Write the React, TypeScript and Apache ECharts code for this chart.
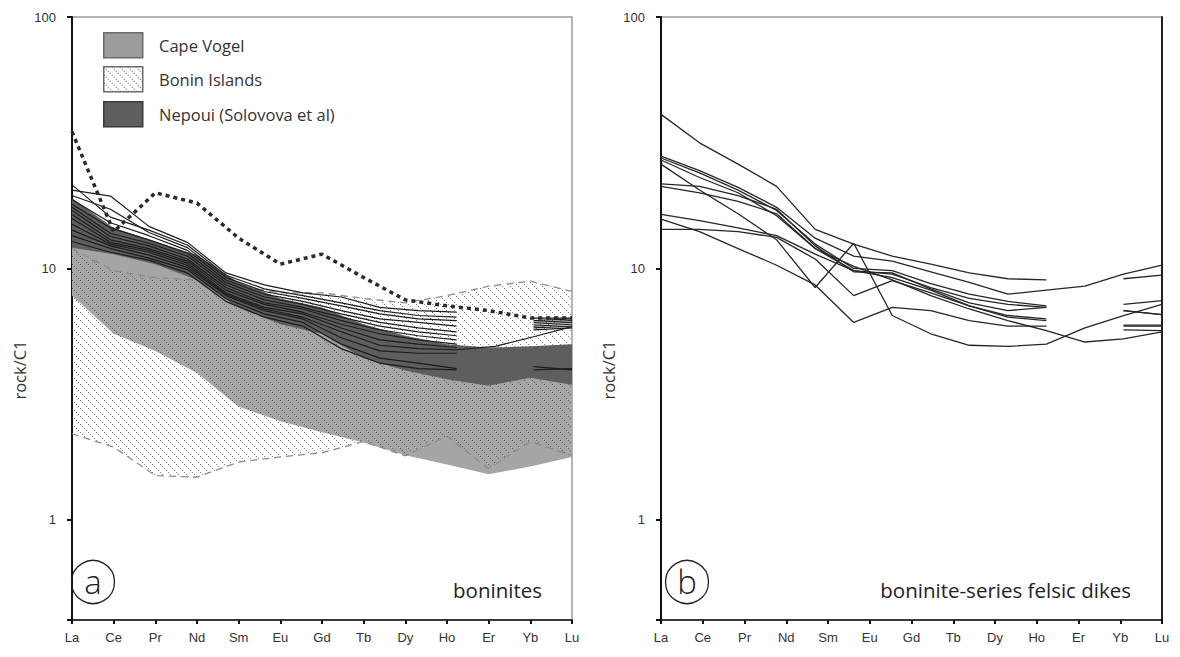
import React, { useEffect, useRef } from 'react';
import * as echarts from 'echarts';

// ---------- categories ----------
const REE_LABELS = ['La', 'Ce', 'Pr', 'Nd', 'Sm', 'Eu', 'Gd', 'Tb', 'Dy', 'Ho', 'Er', 'Yb', 'Lu'];
// sample profiles are plotted on the full REE list (Tm not analysed)
const REE_SAMPLE = ['La', 'Ce', 'Pr', 'Nd', 'Sm', 'Eu', 'Gd', 'Tb', 'Dy', 'Ho', 'Er', 'Tm', 'Yb', 'Lu'];
const Y_TICKS = [1, 10, 100];

// ---------- panel a : reference fields (13 labelled positions) ----------
const capeVogelUpper = [18.5, 14, 12.5, 11, 8.6, 7.4, 6.8, 5.8, 5.2, 4.9, 4.8, 4.85, 4.95];
const capeVogelLower = [7.8, 5.5, 4.7, 3.84, 2.82, 2.47, 2.23, 2.03, 1.81, 1.66, 1.52, 1.63, 1.78];
const boninUpper = [12, 9.8, 9.2, 9.0, 8.5, 8.0, 8.0, 7.6, 7.3, 7.8, 8.5, 8.9, 8.1];
const boninLower = [2.2, 1.95, 1.5, 1.48, 1.7, 1.78, 1.85, 2.05, 1.8, 2.15, 1.6, 2.05, 1.8];
const nepouiUpper = [19, 14.5, 12.8, 11.3, 8.8, 7.6, 7.0, 6.0, 5.4, 5.0, 4.85, 4.9, 5.0];
const nepouiLower = [12.1, 11.4, 10.4, 9.0, 7.0, 6.0, 5.5, 4.4, 3.93, 3.63, 3.42, 3.68, 3.45];
const dottedProfile = [35, 14, 20, 18.2, 13.2, 10.4, 11.4, 9.2, 7.5, 7.1, 6.8, 6.35, 6.35];

// ---------- panel a : boninite samples (14 REE positions) ----------
const boniniteProfiles: (number | null)[][] = [
  [20.5, 19.4, 14.7, 12.7, 9.6, 8.6, 8.0, 7.7, 7.0, 6.8, 6.7, null, 6.35, 6.35],
  [21.5, 16.0, 14.2, 12.4, 9.4, 8.3, 7.8, 7.3, 6.8, 6.5, 6.4, null, 6.2, 6.3],
  [19.5, 17.2, 13.9, 12.1, 9.2, 8.1, 7.6, 7.1, 6.6, 6.3, 6.2, null, 6.1, 6.2],
  [18.8, 15.2, 13.5, 11.8, 9.0, 7.9, 7.4, 6.8, 6.3, 6.1, 5.9, null, 6.0, 6.1],
  [18.0, 14.5, 13.0, 11.5, 8.8, 7.7, 7.2, 6.6, 6.1, 5.8, 5.6, null, 5.9, 6.0],
  [17.5, 13.8, 12.6, 11.2, 8.6, 7.5, 7.0, 6.4, 5.9, 5.6, 5.4, null, 5.8, 5.9],
  [17.0, 13.4, 12.3, 10.9, 8.4, 7.3, 6.9, 6.2, 5.7, 5.4, 5.2, null, 5.7, 5.8],
  [16.4, 13.0, 12.0, 10.7, 8.2, 7.2, 6.7, 6.0, 5.5, 5.2, 5.0, null, null, null],
  [15.8, 12.7, 11.8, 10.5, 8.0, 7.0, 6.6, 5.8, 5.2, 5.0, 4.85, null, null, null],
  [15.0, 12.5, 11.6, 10.3, 7.9, 6.9, 6.4, 5.6, 4.95, 4.8, 4.75, 4.9, 5.35, 5.87],
  [14.2, 12.3, 11.3, 10.1, 7.8, 6.8, 6.3, 5.3, 4.7, 4.6, 4.6, null, null, null],
  [13.5, 12.0, 11.0, 9.9, 7.6, 6.6, 6.1, 5.0, 4.4, 4.2, 4.0, null, 4.07, 3.95],
  [12.8, 11.6, 10.8, 9.6, 7.4, 6.4, 5.9, 4.8, 4.2, 4.0, 3.95, null, 3.95, 4.0],
];

// ---------- panel b : felsic dikes (14 REE positions) ----------
const felsicProfiles: (number | null)[][] = [
  [41, 31.6, 26, 21.2, 14.3, 12.5, 11.2, 10.4, 9.6, 9.1, 9.0, null, 9.1, 9.4],
  [28, 24.5, 21, 17.5, 13.2, 11.2, 10.7, 9.7, 8.8, 7.9, 8.2, 8.5, 9.5, 10.3],
  [27.5, 24, 20.5, 17, 12.5, 10, 9.8, 8.7, 7.9, 7.4, 7.1, null, 7.2, 7.45],
  [27, 23, 20, 16.2, 12, 9.8, 9.5, 8.4, 7.6, 7.2, 7.0, null, 6.8, 6.55],
  [26, 20.5, 16.5, 13, 8.4, 12.6, 6.5, 5.5, 4.95, 4.9, 5.0, 5.8, 6.5, 7.2],
  [21.7, 21.2, 19.5, 17.2, 12.3, 9.7, 9.6, 8.3, 7.3, 6.8, 7.0, null, 5.9, 5.9],
  [21.2, 20, 18.5, 16.5, 12, 10.2, 9.0, 7.8, 6.9, 6.2, 5.66, 5.1, 5.25, 5.6],
  [16.4, 15.5, 14.5, 13.5, 11.4, 9.8, 9.2, 8.2, 7.1, 6.5, 6.3, null, 5.95, 5.95],
  [15.7, 14, 12, 10.3, 8.6, 6.1, 7.0, 6.8, 6.2, 5.9, 5.9, null, 5.7, 5.66],
  [14.3, 14.3, 14, 13.3, 10.9, 7.8, 8.95, 8.0, 7.1, 6.4, 6.2, null, 6.8, 6.55],
];

const NARROW = "'Liberation Sans Narrow', 'Liberation Sans', Arial, sans-serif";
const HUMAN = "'Open Sans', 'Noto Sans', sans-serif";

function makeHatch(alpha: number): HTMLCanvasElement {
  const c = document.createElement('canvas');
  c.width = 8;
  c.height = 8;
  const ctx = c.getContext('2d');
  if (ctx) {
    ctx.fillStyle = 'rgba(50,50,50,' + alpha + ')';
    for (let i = 0; i < 8; i += 2) ctx.fillRect(i, i, 1, 1);
  }
  return c;
}

function bandSeries(
  name: string,
  upper: number[],
  lower: number[],
  xAxisIndex: number,
  yAxisIndex: number,
  fill: any,
  stroke: string | null,
  dashed: boolean
) {
  return {
    type: 'custom',
    name,
    xAxisIndex,
    yAxisIndex,
    coordinateSystem: 'cartesian2d',
    silent: true,
    clip: true,
    data: [[0, upper[0]]],
    renderItem: (_params: any, api: any) => {
      const top = upper.map((v, i) => api.coord([i, v]));
      const bot = lower.map((v, i) => api.coord([i, v]));
      const children: any[] = [
        {
          type: 'polygon',
          shape: { points: top.concat(bot.slice().reverse()) },
          style: { fill, stroke: dashed ? null : stroke, lineWidth: 1 },
        },
      ];
      if (dashed && stroke) {
        children.push({
          type: 'polyline',
          shape: { points: top },
          style: { stroke, fill: null, lineWidth: 1.3, lineDash: [7, 5] },
        });
        children.push({
          type: 'polyline',
          shape: { points: bot },
          style: { stroke, fill: null, lineWidth: 1.3, lineDash: [7, 5] },
        });
      }
      return { type: 'group', children };
    },
  };
}

function yAxisFor(gridIndex: number) {
  return {
    type: 'log',
    logBase: 10,
    gridIndex,
    min: 0.4,
    max: 100,
    axisLine: { show: true, lineStyle: { color: '#111', width: 2 } },
    axisTick: { show: true, length: 5, lineStyle: { color: '#111', width: 2 } },
    axisLabel: {
      margin: 16,
      color: '#333',
      fontSize: 13,
      fontFamily: NARROW,
      formatter: (v: number) => {
        const t = Y_TICKS.find((k) => Math.abs(v - k) / k < 1e-6);
        return t !== undefined ? String(t) : '';
      },
    },
    splitLine: { show: false },
  };
}

function xAxisVisible(gridIndex: number) {
  return {
    type: 'category',
    gridIndex,
    data: REE_LABELS,
    boundaryGap: false,
    axisLine: { show: true, lineStyle: { color: '#111', width: 1.5 } },
    axisTick: { show: true, length: 4, interval: 0, lineStyle: { color: '#111', width: 2 } },
    axisLabel: { interval: 0, margin: 11, color: '#333', fontSize: 13, fontFamily: NARROW },
    splitLine: { show: false },
  };
}

function xAxisHidden(gridIndex: number) {
  return { type: 'category', gridIndex, data: REE_SAMPLE, boundaryGap: false, show: false };
}

export default function App() {
  const ref = useRef<HTMLDivElement>(null);

  useEffect(() => {
    if (!ref.current) return;
    const chart = echarts.init(ref.current, undefined, { renderer: 'svg' });
    const hatchFill = { image: makeHatch(0.6), repeat: 'repeat', imageWidth: 8, imageHeight: 8 };
    const hatchLegend = { image: makeHatch(0.8), repeat: 'repeat', imageWidth: 8, imageHeight: 8 };

    const series: any[] = [
      bandSeries('Cape Vogel', capeVogelUpper, capeVogelLower, 0, 0, '#a5a5a5', null, false),
      bandSeries('Bonin Islands', boninUpper, boninLower, 0, 0, hatchFill, '#8c8c8c', true),
      bandSeries('Nepoui (Solovova et al)', nepouiUpper, nepouiLower, 0, 0, '#5e5e5e', null, false),
    ];
    boniniteProfiles.forEach((p, i) => {
      series.push({
        type: 'line',
        name: 'boninite ' + (i + 1),
        xAxisIndex: 1,
        yAxisIndex: 0,
        data: p,
        symbol: 'none',
        connectNulls: false,
        silent: true,
        lineStyle: { color: '#1c1c1c', width: 1.2 },
      });
    });
    series.push({
      type: 'line',
      name: 'reference (dotted)',
      xAxisIndex: 0,
      yAxisIndex: 0,
      data: dottedProfile,
      symbol: 'none',
      silent: true,
      lineStyle: { color: '#2a2a2a', width: 3.5, type: [4, 4] },
    });
    felsicProfiles.forEach((p, i) => {
      series.push({
        type: 'line',
        name: 'felsic ' + (i + 1),
        xAxisIndex: 3,
        yAxisIndex: 1,
        data: p,
        symbol: 'none',
        connectNulls: false,
        silent: true,
        lineStyle: { color: '#262626', width: 1.3 },
      });
    });

    const legendItems = [
      { label: 'Cape Vogel', fill: '#9c9c9c', stroke: '#6a6a6a', y: 32 },
      { label: 'Bonin Islands', fill: hatchLegend, stroke: '#6a6a6a', y: 66 },
      { label: 'Nepoui (Solovova et al)', fill: '#5e5e5e', stroke: '#3a3a3a', y: 101 },
    ];
    const graphic: any[] = [];
    legendItems.forEach((it) => {
      graphic.push({
        type: 'rect',
        left: 103,
        top: it.y,
        shape: { width: 39, height: 25 },
        style: { fill: it.fill, stroke: it.stroke, lineWidth: 1.5 },
        z: 10,
      });
      graphic.push({
        type: 'text',
        x: 159,
        y: it.y + 13,
        style: {
          text: it.label,
          fill: '#333',
          fontSize: 16.5,
          fontFamily: HUMAN,
          verticalAlign: 'middle',
        },
        z: 10,
      });
    });
    [
      { cx: 93, letter: 'a', ylab: 19, note: 'boninites', noteRight: 542 },
      { cx: 687, letter: 'b', ylab: 608, note: 'boninite-series felsic dikes', noteRight: 1131 },
    ].forEach((p) => {
      graphic.push({
        type: 'circle',
        shape: { cx: p.cx, cy: 582, r: 21.5 },
        style: { fill: 'none', stroke: '#222', lineWidth: 1.3 },
        z: 10,
      });
      graphic.push({
        type: 'text',
        x: p.cx,
        y: 581,
        style: {
          text: p.letter,
          fill: '#222',
          fontSize: 33,
          fontWeight: 300,
          fontFamily: HUMAN,
          align: 'center',
          verticalAlign: 'middle',
        },
        z: 10,
      });
      graphic.push({
        type: 'text',
        x: p.noteRight,
        y: 590,
        style: {
          text: p.note,
          fill: '#222',
          fontSize: 20.5,
          fontFamily: HUMAN,
          align: 'right',
          verticalAlign: 'middle',
        },
        z: 10,
      });
      graphic.push({
        type: 'text',
        x: p.ylab,
        y: 370,
        rotation: Math.PI / 2,
        style: {
          text: 'rock/C1',
          fill: '#333',
          fontSize: 16.5,
          fontFamily: HUMAN,
          align: 'center',
          verticalAlign: 'middle',
        },
        z: 10,
      });
    });

    chart.setOption({
      animation: false,
      backgroundColor: '#ffffff',
      grid: [
        { left: 72, right: 608, top: 17, bottom: 37, show: true, borderColor: '#b4b4b4', borderWidth: 2 },
        { left: 661, right: 18, top: 17, bottom: 37, show: true, borderColor: '#b4b4b4', borderWidth: 2 },
      ],
      xAxis: [xAxisVisible(0), xAxisHidden(0), xAxisVisible(1), xAxisHidden(1)],
      yAxis: [
        yAxisFor(0),
        yAxisFor(1),
        {
          type: 'log',
          logBase: 10,
          gridIndex: 1,
          min: 0.4,
          max: 100,
          position: 'right',
          axisLine: { show: true, lineStyle: { color: '#222', width: 2 } },
          axisTick: { show: false },
          axisLabel: { show: false },
          splitLine: { show: false },
        },
      ],
      series,
      graphic,
    });

    return () => {
      chart.dispose();
    };
  }, []);

  return (
    <div
      ref={ref}
      style={{ position: 'absolute', left: 0, top: 0, width: 1180, height: 657, background: '#fff' }}
    />
  );
}
